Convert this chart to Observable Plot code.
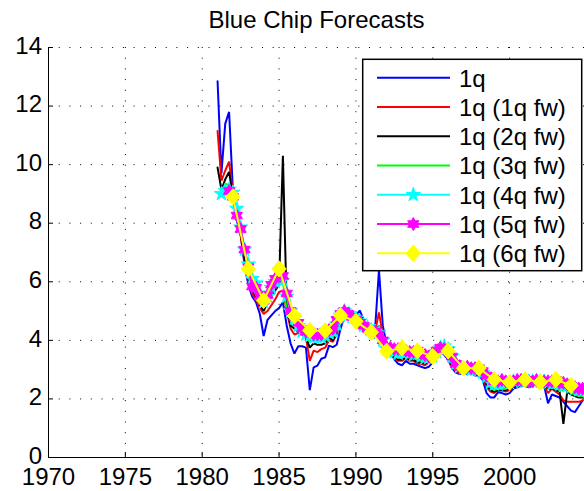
<!DOCTYPE html>
<html><head><meta charset="utf-8">
<script src="https://cdn.jsdelivr.net/npm/d3@7"></script>
<script src="https://cdn.jsdelivr.net/npm/@observablehq/plot@0.6"></script>
<style>
body{margin:0;background:#fff;}
#wrap{position:relative;width:584px;height:491px;overflow:hidden;font-family:"Liberation Sans",Arial,sans-serif;}
#legend{position:absolute;left:0;top:0;}
</style></head><body><div id="wrap"></div>
<script>
// ---------- DATA (quarterly, first value = 1981 Q1; null = not available) ----------
const firstQuarter = 1981;
const blue = [
  12.85, 9.7, 11.4, 11.8,   9.1, 8.1, 7.6, 6.6,   5.9, 5.5, 5.3, 4.9,   4.15, 4.7, 4.85, 5.0,
  5.1, 5.3, 4.5, 3.9,       3.55, 3.8, 3.8, 3.75,  2.3, 3.08, 3.14, 3.37, 3.42, 3.82, 3.77, 3.85,
  4.4, 4.8, 4.8, 4.7,       4.85, 5.02, 4.7, 4.4,  4.4, 4.4, 6.4, 4.5,   3.85, 3.6, 3.35, 3.2,
  3.15, 3.3, 3.2, 3.2,      3.15, 3.1, 3.05, 3.1,  3.25, 3.45, 3.65, 3.5, 3.35, 3.05, 2.9, 2.85,
  2.9, 2.85, 2.9, 2.8,      2.8, 2.65, 2.2, 2.05,  2.05, 2.23, 2.2, 2.15, 2.2, 2.35, 2.4, 2.45,
  2.45, 2.4, 2.45, 2.5,     2.5, 2.45, 1.85, 2.15, 2.1, 2.05, 1.9, 1.75,  1.6, 1.55, 1.75, 1.95
];
const red = [
  11.15, 9.45, 9.8, 10.1,   9.0, 8.2, 7.6, 6.7,    6.0, 5.6, 5.4, 5.1,   4.9, 5.0, 5.2, 5.4,
  5.65, 5.7, 5.0, 4.4,      4.2, 4.25, 4.2, 4.1,   3.3, 3.65, 3.6, 3.7,  3.75, 4.0, 3.95, 4.2,
  4.6, 4.9, 4.8, 4.7,       4.85, 4.85, 4.6, 4.4,  4.35, 4.3, 4.95, 4.2, 3.7, 3.5, 3.4, 3.3,
  3.3, 3.4, 3.3, 3.3,       3.2, 3.2, 3.15, 3.25,  3.35, 3.5, 3.7, 3.55, 3.4, 3.1, 2.95, 2.9,
  2.95, 2.9, 2.95, 2.85,    2.85, 2.75, 2.4, 2.25, 2.2, 2.3, 2.3, 2.25,  2.3, 2.4, 2.45, 2.5,
  2.5, 2.45, 2.5, 2.5,      2.55, 2.5, 2.2, 2.35,  2.25, 2.15, 1.95, 1.9, 1.9, 1.9, 1.9, 1.95
];
const black = [
  9.9, 9.15, 9.5, 9.75,     8.9, 8.2, 7.7, 6.8,    6.1, 5.7, 5.5, 5.2,   5.0, 5.3, 5.5, 5.7,
  5.9, 10.3, 5.1, 4.5,      4.4, 4.3, 4.2, 4.1,    3.75, 3.9, 3.85, 3.85, 3.9, 4.1, 4.0, 4.3,
  4.7, 4.9, 4.8, 4.7,       4.8, 4.75, 4.55, 4.4,  4.3, 4.25, 4.5, 4.0,  3.6, 3.5, 3.45, 3.35,
  3.35, 3.4, 3.35, 3.35,    3.25, 3.25, 3.2, 3.3,  3.4, 3.5, 3.65, 3.6,  3.45, 3.15, 3.0, 2.95,
  3.0, 2.95, 2.95, 2.9,     2.9, 2.8, 2.5, 2.3,    2.25, 2.3, 2.3, 2.3,  2.35, 2.4, 2.45, 2.5,
  2.5, 2.5, 2.5, 2.5,       2.55, 2.5, 2.35, 2.35, 2.3, 2.25, 1.15, 2.25, 2.15, 2.1, 2.05, 2.05
];
const green = [
  null, 9.0, 9.35, 9.3,     8.9, 8.4, 7.8, 7.2,    6.4, 5.9, 5.7, 5.4,   5.2, 5.4, 5.6, 5.9,
  6.1, 6.0, 5.0, 4.7,       4.6, 4.4, 4.25, 4.1,   3.95, 4.0, 3.95, 4.0, 4.0, 4.15, 4.1, 4.4,
  4.75, 4.9, 4.8, 4.7,      4.75, 4.65, 4.5, 4.4,  4.3, 4.25, 4.3, 3.95, 3.6, 3.55, 3.5, 3.4,
  3.45, 3.45, 3.4, 3.4,     3.35, 3.3, 3.3, 3.35,  3.45, 3.55, 3.7, 3.65, 3.5, 3.25, 3.05, 3.0,
  3.0, 3.0, 3.0, 2.95,      2.95, 2.85, 2.6, 2.4,  2.3, 2.35, 2.35, 2.35, 2.4, 2.45, 2.5, 2.5,
  2.55, 2.5, 2.5, 2.5,      2.55, 2.5, 2.45, 2.4,  2.4, 2.3, 2.3, 2.3,   2.2, 2.15, 2.1, 2.1
];
const cyan = [
  null, 9.0, 9.1, 9.15,     9.05, 8.5, 7.86, 7.1,  6.6, 6.1, 5.95, 5.6,  5.3, 5.5, 5.8, 6.0,
  6.1, 6.04, 5.5, 5.0,      4.75, 4.5, 4.3, 4.2,   4.15, 4.1, 4.1, 4.1,  4.15, 4.25, 4.3, 4.55,
  4.85, 5.0, 4.9, 4.8,      4.75, 4.65, 4.5, 4.45, 4.35, 4.3, 4.25, 4.0, 3.7, 3.7, 3.6, 3.55,
  3.6, 3.6, 3.55, 3.5,      3.55, 3.45, 3.4, 3.4,  3.45, 3.6, 3.75, 3.8, 3.7, 3.45, 3.2, 3.1,
  3.05, 3.05, 3.0, 3.0,     3.0, 2.9, 2.75, 2.55,  2.5, 2.5, 2.55, 2.55, 2.55, 2.6, 2.6, 2.6,
  2.6, 2.6, 2.6, 2.6,       2.6, 2.6, 2.55, 2.5,   2.55, 2.5, 2.45, 2.45, 2.4, 2.35, 2.3, 2.3
];
const magenta = [
  null, null, null, 9.1,    8.9, 8.26, 7.8, 7.1,   6.5, 5.84, 5.8, 5.5,  5.35, 5.55, 5.9, 6.1,
  6.33, 6.2, 5.6, 5.0,      4.8, 4.6, 4.4, 4.3,    4.3, 4.2, 4.2, 4.2,   4.3, 4.35, 4.4, 4.7,
  4.9, 5.0, 4.9, 4.8,       4.7, 4.6, 4.5, 4.4,    4.3, 4.3, 4.2, 4.0,   3.75, 3.75, 3.7, 3.7,
  3.7, 3.65, 3.6, 3.6,      3.65, 3.55, 3.5, 3.45, 3.5, 3.65, 3.75, 3.7, 3.65, 3.45, 3.2, 3.1,
  3.05, 3.1, 3.05, 3.05,    3.05, 2.95, 2.8, 2.7,  2.6, 2.6, 2.65, 2.6,  2.6, 2.6, 2.65, 2.65,
  2.65, 2.6, 2.6, 2.65,     2.6, 2.6, 2.6, 2.6,    2.65, 2.55, 2.55, 2.5, 2.45, 2.4, 2.35, 2.35
];
// 1q (6q fw): annual observations
const yellowYears = [1982,1983,1984,1985,1986,1987,1988,1989,1990,1991,1992,1993,1994,1995,1996,1997,1998,1999,2000,2001,2002,2003,2004];
const yellow = [8.9, 6.44, 5.36, 6.44, 4.83, 4.34, 4.33, 4.85, 4.65, 4.28, 3.63, 3.74, 3.64, 3.45, 3.64, 3.05, 3.05, 2.66, 2.57, 2.66, 2.57, 2.66, 2.46];

const seriesNames = ["1q", "1q (1q fw)", "1q (2q fw)", "1q (3q fw)", "1q (4q fw)", "1q (5q fw)", "1q (6q fw)"];
const xTicks = [1970, 1975, 1980, 1985, 1990, 1995, 2000];
const yTicks = [0, 2, 4, 6, 8, 10, 12, 14];
const titleText = "Blue Chip Forecasts";

// ---------- symbols (MATLAB-like) ----------
const pentagram = {draw(ctx, size) {
  const R = Math.sqrt(size / Math.PI), r = R * 0.382;
  for (let i = 0; i < 10; i++) {
    const a = -Math.PI / 2 + i * Math.PI / 5, rad = i % 2 ? r : R;
    const x = rad * Math.cos(a), y = rad * Math.sin(a);
    i ? ctx.lineTo(x, y) : ctx.moveTo(x, y);
  }
  ctx.closePath();
}};
const hexagram = {draw(ctx, size) {
  const R = Math.sqrt(size / Math.PI), r = R * 0.577;
  for (let i = 0; i < 12; i++) {
    const a = -Math.PI / 2 + i * Math.PI / 6, rad = i % 2 ? r : R;
    const x = rad * Math.cos(a), y = rad * Math.sin(a);
    i ? ctx.lineTo(x, y) : ctx.moveTo(x, y);
  }
  ctx.closePath();
}};
const diamondM = {draw(ctx, size) {
  const R = Math.sqrt(size / Math.PI);
  ctx.moveTo(0, -R * 1.12); ctx.lineTo(R, 0); ctx.lineTo(0, R * 1.12); ctx.lineTo(-R, 0); ctx.closePath();
}};

const quarterly = v => v.map((val, i) => ({t: firstQuarter + i / 4, v: val})).filter(d => d.v != null);
const series = [
  {name: seriesNames[0], color: "#0000ff", rows: quarterly(blue)},
  {name: seriesNames[1], color: "#ff0000", rows: quarterly(red)},
  {name: seriesNames[2], color: "#000000", rows: quarterly(black)},
  {name: seriesNames[3], color: "#00ff00", rows: quarterly(green)},
  {name: seriesNames[4], color: "#00ffff", rows: quarterly(cyan), symbol: pentagram, r: 7.5},
  {name: seriesNames[5], color: "#ff00ff", rows: quarterly(magenta), symbol: hexagram, r: 6.5},
  {name: seriesNames[6], color: "#ffff00", rows: yellowYears.map((t, i) => ({t, v: yellow[i]})), symbol: diamondM, r: 7.2}
];

const W = 584, H = 491, mL = 48, mT = 47, mB = 34, mR = 0;
const pxPerYear = 15.37;
const xMax = 1970 + (W - mL - mR) / pxPerYear;
const innerW = W - mL - mR, innerH = H - mT - mB;

const marks = [];
const dotted = {stroke: "#000", strokeWidth: 1, strokeDasharray: "1,9.7"};
marks.push(Plot.ruleX(xTicks.filter(d => d > 1970), dotted));
marks.push(Plot.ruleY(yTicks.filter(d => d > 0), dotted));
for (const s of series) {
  marks.push(Plot.line(s.rows, {x: "t", y: "v", stroke: s.color, strokeWidth: 2, strokeLinejoin: "miter", clip: true}));
  if (s.symbol) marks.push(Plot.dot(s.rows, {x: "t", y: "v", r: s.r, symbol: s.symbol, fill: s.color, stroke: s.color, strokeWidth: 1, clip: true}));
}
marks.push(Plot.ruleX(xTicks, {stroke: "#000", strokeWidth: 1, insetTop: innerH - 5}));
marks.push(Plot.ruleY(yTicks, {stroke: "#000", strokeWidth: 1, insetRight: innerW - 5}));
marks.push(Plot.ruleX([1970], {stroke: "#000", strokeWidth: 1}));
marks.push(Plot.ruleY([0], {stroke: "#000", strokeWidth: 1}));
marks.push(Plot.axisX({ticks: xTicks, tickSize: 0, tickPadding: 10, tickFormat: d => String(d), fontSize: 24, fill: "#000"}));
marks.push(Plot.axisY({ticks: yTicks, tickSize: 0, tickPadding: 6.5, dy: -1.5, tickFormat: d => String(d), fontSize: 24, fill: "#000"}));
marks.push(Plot.text([titleText], {frameAnchor: "top", text: d => d, dy: -27.4, fontSize: 24, lineAnchor: "middle", fill: "#000"}));

const chart = Plot.plot({
  width: W, height: H,
  marginLeft: mL, marginRight: mR, marginTop: mT, marginBottom: mB,
  x: {domain: [1970, xMax], label: null},
  y: {domain: [0, 14], label: null},
  style: {fontFamily: "'Liberation Sans', Arial, sans-serif", fontSize: "24px", background: "#fff", color: "#000", overflow: "visible"},
  marks
});
const wrap = document.getElementById("wrap");
wrap.appendChild(chart);

// ---------- legend (MATLAB-style box, top right) ----------
const lg = d3.select(wrap).append("svg").attr("id", "legend").attr("width", W).attr("height", H);
const box = {x: 362.7, y: 59.3, w: 219, h: 211.4};
lg.append("rect").attr("x", box.x).attr("y", box.y).attr("width", box.w).attr("height", box.h)
  .attr("fill", "#fff").attr("stroke", "#000").attr("stroke-width", 1.5);
series.forEach((s, i) => {
  const cy = box.y + 18.4 + i * 29.27;
  lg.append("line").attr("x1", box.x + 14.3).attr("x2", box.x + 87.3).attr("y1", cy).attr("y2", cy)
    .attr("stroke", s.color).attr("stroke-width", 2);
  if (s.symbol) {
    const p = d3.path(); s.symbol.draw(p, s.r * s.r * Math.PI);
    lg.append("path").attr("d", p.toString()).attr("transform", `translate(${box.x + 50.6},${cy})`)
      .attr("fill", s.color).attr("stroke", s.color).attr("stroke-width", 1);
  }
  lg.append("text").attr("x", box.x + 96.3).attr("y", cy + 8.8).attr("font-size", 24)
    .attr("font-family", "'Liberation Sans', Arial, sans-serif").attr("fill", "#000").text(s.name);
});
</script>
</body></html>
